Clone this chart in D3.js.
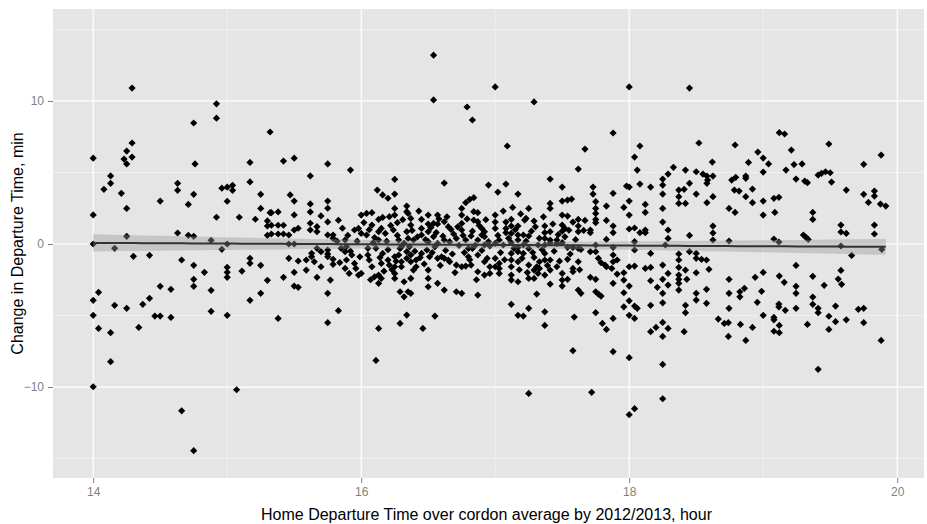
<!DOCTYPE html>
<html>
<head>
<meta charset="utf-8">
<script src="https://cdn.jsdelivr.net/npm/d3@7"></script>
<style>
  body { margin: 0; background: #ffffff; }
  svg { display: block; }
  text { font-family: "Liberation Sans", Arial, sans-serif; }
</style>
</head>
<body>
<svg id="chart" width="927" height="524"></svg>
<script>
// Observations: [home departure hour, change in departure time (min)], grouped by hour band
const hour14 = [
  [14.29,10.9],[14.92,9.8],[14.92,8.8],[14.75,8.46],[14.29,7.06],[14.25,6.5],[14.23,5.94],[14.29,6.08],[14.0,6.0],[14.25,5.6],[14.76,5.6],
  [14.13,4.76],[14.13,4.24],[14.08,3.82],[14.21,3.54],[14.25,2.49],[14.0,2.03],[14.5,3.0],[14.63,4.24],[14.63,3.75],[14.75,3.47],[14.71,2.77],
  [14.96,3.9],[14.92,1.87],[14.25,0.54],[14.63,0.77],[14.71,0.61],[14.75,0.54],[14.88,0.26],[14.0,0],[14.16,-0.3],[14.96,-0.37],[14.3,-0.86],
  [14.42,-0.79],[14.66,-1.12],[14.75,-1.49],[14.83,-1.98],[14.75,-2.47],[14.75,-2.96],[14.88,-3.24],[14.5,-2.96],[14.58,-3.17],[14.04,-3.38],
  [14.0,-3.94],[14.16,-4.29],[14.25,-4.5],[14.37,-4.22],[14.42,-3.8],[14.0,-4.99],[14.46,-5.04],[14.5,-5.04],[14.58,-5.13],[14.88,-4.71],
  [14.04,-5.9],[14.13,-6.2],[14.34,-5.83],[14.13,-8.23],[14.0,-9.98],[14.66,-11.66],[14.75,-14.45]
];
const hour15 = [
  [15.17,5.7],[15.32,7.83],[15.42,5.8],[15.5,6.0],[15.75,5.6],[15.07,-10.19],[15.75,-5.5],
  [15.0,3.97],[15.04,4.1],[15.04,3.75],[15.0,2.99],[15.09,1.87],[15.17,4.34],[15.25,3.47],[15.25,2.49],[15.21,1.73],[15.30,1.61],[15.30,1.26],
  [15.30,0.61],[15.32,2.19],[15.0,0],[15.0,-1.63],[15.0,-1.98],[15.0,-2.33],[15.11,-1.89],[15.17,-1.0],[15.17,-1.35],[15.25,-1.49],[15.3,-2.54],
  [15.0,-4.99],[15.17,-3.94],[15.25,-3.45],
  [15.92,5.17],[15.62,4.76],[15.47,3.43],[15.5,3.0],[15.62,2.8],[15.75,3.0],[15.75,2.5],[15.33,2.19],[15.38,2.24],[15.5,2.03],[15.62,2.24],
  [15.7,1.96],[15.75,1.54],[15.83,1.66],[15.33,1.31],[15.38,1.31],[15.42,1.31],[15.33,0.7],[15.38,0.7],[15.42,0.7],[15.46,0.63],[15.5,0.98],
  [15.53,1.1],[15.62,1.45],[15.62,0.98],[15.67,1.21],[15.67,0.86],[15.75,0.63],[15.79,0.63],[15.79,0.4],[15.46,0],[15.5,0],[15.67,-0.3],
  [15.63,-0.65],[15.7,-0.54],[15.75,-0.7],[15.75,-0.42],[15.63,-0.89],[15.65,-1.24],[15.75,-0.89],[15.79,-1.07],[15.79,-1.42],[15.46,-1.0],
  [15.53,-1.19],[15.59,-1.12],[15.59,-1.82],[15.5,-1.98],[15.7,-1.59],[15.67,-2.33],[15.77,-2.52],[15.42,-2.33],[15.5,-2.94],[15.53,-3.03],
  [15.75,-3.45],[15.83,-4.66],[15.38,-5.2],
  [15.88,0.28],[15.89,-0.19],[15.88,-0.54],[15.89,-1.12],[15.88,-1.71],[15.91,-2.06],[15.93,-0.77],[15.95,-1.36],[15.98,-2.17],[15.96,-1.71],
  [15.95,0.98],[15.98,1.09],
  [15.82,0.2],[15.85,-0.3],[15.86,1.1],[15.9,0.6],[15.92,-0.5],[15.97,0.2],[15.99,-0.9],[15.84,-1.3]
];
const hour16 = [
  [16.54,13.2],[16.54,10.07],[16.79,9.58],[16.83,8.67],
  [16.25,4.52],[16.62,4.26],[16.95,4.12],[16.12,3.77],[16.16,3.43],[16.2,3.2],[16.25,3.49],
  [16.0,2.02],[16.04,2.14],[16.08,2.19],[16.08,1.32],[16.13,1.72],[16.16,1.86],[16.21,1.91],[16.25,2.02],[16.25,2.49],[16.27,1.49],[16.34,2.65],
  [16.34,2.26],[16.35,2.14],[16.37,1.79],[16.37,1.32],[16.45,1.72],[16.5,2.02],[16.5,1.4],[16.54,1.44],[16.57,1.4],[16.57,2.02],[16.62,1.56],
  [16.65,1.21],[16.67,1.02],[16.75,2.49],[16.75,2.02],[16.75,1.44],[16.75,0.98],[16.78,2.89],[16.81,3.12],[16.84,3.24],[16.84,2.26],[16.87,2.19],
  [16.84,1.67],[16.87,1.56],[16.9,1.09],[16.92,0.86],[16.9,0.63],
  [16.0,0.74],[16.04,0.63],[16.13,0.86],[16.13,0.28],[16.15,1.09],[16.18,0.74],[16.24,0.98],[16.28,0.28],[16.3,-0.19],[16.34,0.86],[16.35,0.39],
  [16.39,0.28],[16.45,1.09],[16.45,0.63],[16.5,0.86],[16.5,0.16],[16.54,0.51],[16.57,0.04],[16.62,0.28],[16.66,0.16],[16.71,0.39],[16.78,0.28],
  [16.82,0.56],[16.87,0.28],[16.92,0.51],[16.95,0.16],
  [16.0,-2.06],[16.05,-0.77],[16.06,-1.12],[16.08,-1.59],[16.1,-2.29],[16.13,-2.17],[16.15,-2.41],[16.13,-2.75],[16.16,-0.66],[16.15,-1.36],
  [16.2,-1.12],[16.21,-1.47],[16.25,-0.89],[16.25,-1.59],[16.25,-2.06],[16.25,-2.41],[16.29,-0.31],[16.28,-0.77],[16.3,-1.24],[16.3,-1.59],
  [16.34,-0.54],[16.34,-1.0],[16.37,-0.77],[16.37,-1.24],[16.41,-1.12],[16.41,-1.59],[16.39,-1.82],[16.32,-2.64],[16.35,-3.34],[16.37,-3.45],
  [16.29,-3.34],[16.32,-3.69],[16.37,-2.41],[16.45,-0.66],[16.49,-0.42],[16.51,-0.89],[16.5,-1.82],[16.5,-2.41],[16.5,-2.99],[16.57,-1.0],
  [16.6,-0.89],[16.62,-1.0],[16.65,-1.12],[16.66,-1.24],[16.71,-1.47],[16.75,-1.59],[16.78,-1.54],[16.82,-1.47],[16.62,-3.22],[16.57,-2.75],
  [16.71,-3.34],[16.75,-3.45],[16.8,-0.31],[16.83,-0.31],[16.87,-0.77],[16.8,-0.89],[16.87,-1.94],[16.92,-2.17],[16.87,-3.57],
  [16.92,-0.07],[16.96,-0.14],[16.92,-1.24],[16.96,-1.59],[16.96,-2.06],
  [16.55,-5.04],[16.34,-4.97],[16.29,-5.55],[16.13,-5.9],[16.46,-5.9],[16.11,-8.14],
  [16.02,1.5],[16.06,1.0],[16.1,0.45],[16.11,-0.3],[16.14,-0.95],[16.19,0.2],[16.2,-0.4],[16.22,1.3],[16.23,-1.8],[16.27,0.6],
  [16.31,1.7],[16.32,0.05],[16.36,-0.2],[16.38,0.95],[16.4,-0.5],[16.42,0.5],[16.43,2.3],[16.44,-0.95],[16.47,-1.4],[16.48,0.3],
  [16.52,1.15],[16.53,-0.6],[16.55,-0.2],[16.56,0.8],[16.58,1.75],[16.59,-1.5],[16.61,0.55],[16.63,-0.45],[16.64,1.9],[16.68,-0.7],
  [16.69,0.7],[16.7,-2.0],[16.72,1.2],[16.73,-0.1],[16.76,0.6],[16.77,-0.6],[16.79,1.75],[16.81,-1.1],[16.83,0.9],[16.85,-0.1],
  [16.86,-2.5],[16.88,1.3],[16.9,-0.45],[16.93,1.7],[16.94,-1.0],[16.05,-0.3],[16.09,0.1],[16.17,-1.9],[16.07,-2.5],[16.26,-1.2]
];
const hour17 = [
  [17.0,10.98],[17.29,9.93],[17.09,6.85],[17.67,6.64],[17.88,7.76],
  [17.62,5.24],[17.08,4.19],[17.02,3.63],[17.17,3.49],[17.41,4.54],[17.5,3.98],[17.73,3.98],[17.88,3.54],[17.98,4.05],
  [17.41,2.84],[17.41,2.49],[17.5,3.0],[17.54,3.07],[17.57,3.14],[17.73,3.49],[17.75,2.96],[17.75,2.49],[17.75,2.14],[17.75,1.72],[17.75,1.49],
  [17.13,2.56],[17.25,2.49],[17.0,2.02],[17.0,1.53],[17.0,1.09],[17.08,1.53],[17.12,1.72],[17.12,1.26],[17.08,1.09],[17.08,0.79],[17.12,0.74],
  [17.17,1.26],[17.17,0.63],[17.21,0.63],[17.25,0.56],[17.22,1.67],[17.23,1.79],[17.29,1.6],[17.37,1.26],[17.37,0.79],[17.37,0.39],[17.41,0.86],
  [17.41,0.28],[17.46,0.28],[17.5,2.02],[17.54,1.95],[17.5,1.32],[17.52,1.09],[17.55,0.96],[17.5,0.9],[17.58,1.53],[17.62,1.72],[17.67,1.65],
  [17.62,1.26],[17.62,0.86],[17.71,0.98],[17.71,0.79],[17.83,2.65],[17.83,1.65],[17.88,1.26],[17.88,0.79],[17.83,0.32],[17.96,2.56],
  [17.0,0.04],[17.03,0.28],[17.06,-0.07],[17.12,0.09],[17.17,0.28],[17.17,-0.24],[17.21,-0.07],[17.25,-0.31],[17.32,-0.07],[17.37,-0.07],
  [17.41,0.09],[17.46,0.04],[17.5,0.09],[17.54,-0.24],[17.58,-0.24],[17.62,-0.31],[17.64,-0.38],[17.75,-0.07],[17.88,-0.24],
  [17.0,-1.0],[17.0,-1.59],[17.03,-1.36],[17.03,-1.71],[17.03,-2.06],[17.12,-0.66],[17.12,-1.12],[17.12,-1.59],[17.12,-2.17],[17.12,-2.52],
  [17.17,-1.24],[17.17,-2.64],[17.21,-0.66],[17.17,-0.54],[17.25,-1.47],[17.25,-2.41],[17.29,-2.41],[17.29,-1.82],[17.31,-1.59],[17.33,-1.71],
  [17.32,-2.06],[17.37,-2.17],[17.37,-0.66],[17.37,-1.12],[17.41,-1.12],[17.41,-1.82],[17.29,-0.94],[17.33,-1.24],[17.46,-1.59],[17.5,-2.06],
  [17.54,-1.07],[17.5,-2.52],[17.54,-2.47],[17.58,-1.94],[17.58,-1.71],[17.62,-1.24],[17.71,-0.54],[17.75,-0.54],[17.77,-1.0],[17.79,-1.31],
  [17.82,-1.47],[17.83,-1.59],[17.87,-1.71],[17.88,-1.24],[17.88,-0.77],[17.91,-1.12],[17.88,-2.75],[17.41,-2.8],[17.5,-2.94],[17.71,-2.33],
  [17.75,-2.47],[17.62,-3.22],[17.64,-3.45],[17.75,-3.34],[17.77,-3.5],[17.79,-3.64],[17.31,-3.5],[17.96,-2.01],[17.91,-2.1],[17.96,-2.52],
  [17.96,-3.41],[17.96,-4.39],
  [17.12,-4.22],[17.17,-4.99],[17.21,-5.04],[17.25,-4.5],[17.37,-4.74],[17.59,-5.11],[17.75,-4.8],[17.88,-5.2],
  [17.37,-5.69],[17.80,-5.55],[17.83,-5.97],[17.58,-7.46],[17.88,-7.53],[17.25,-10.45],[17.72,-10.37],
  [17.02,0.6],[17.04,-0.6],[17.06,2.3],[17.07,-1.1],[17.1,0.4],[17.14,-0.3],[17.15,1.0],[17.18,-1.8],[17.19,2.1],[17.2,-1.0],
  [17.23,0.2],[17.24,-2.0],[17.27,0.9],[17.28,-0.6],[17.3,1.2],[17.33,0.4],[17.35,-0.4],[17.36,1.9],[17.39,-1.5],[17.43,1.4],
  [17.44,-0.5],[17.47,0.65],[17.48,-1.2],[17.52,0.5],[17.56,-0.7],[17.6,0.3],[17.63,-1.8],[17.66,0.95]
];
const hour18 = [
  [18.0,10.98],[18.45,10.9],[18.08,6.85],[18.04,6.08],[18.52,7.06],[18.62,5.73],[18.79,6.92],[18.89,5.7],[18.96,6.43],
  [18.06,5.17],[18.33,5.36],[18.42,5.17],[18.5,5.05],[18.55,4.89],[18.29,4.89],[18.25,4.54],[18.25,4.12],[18.0,3.98],[18.08,4.19],[18.16,3.98],
  [18.25,3.49],[18.37,3.77],[18.41,3.82],[18.45,4.24],[18.5,3.49],[18.37,3.31],[18.37,2.84],[18.42,2.84],[18.0,3.0],[18.0,2.02],[18.0,1.05],
  [18.04,1.12],[18.08,0.79],[18.12,0.98],[18.12,0.79],[18.12,2.77],[18.12,2.21],[18.25,2.49],[18.25,1.53],[18.29,0.98],[18.29,0.39],[18.45,0.6],
  [18.04,0.16],[18.04,-0.42],[18.27,-0.07],
  [18.0,-1.59],[18.04,-1.54],[18.16,-0.66],[18.12,-1.71],[18.16,-1.64],[18.16,-2.57],[18.21,-3.03],[18.25,-1.47],[18.25,-2.47],[18.29,-2.06],
  [18.29,-2.87],[18.25,-3.45],[18.37,-0.7],[18.37,-1.12],[18.37,-1.64],[18.37,-2.17],[18.37,-2.47],[18.37,-2.75],[18.37,-3.22],[18.42,-1.82],
  [18.43,-2.47],[18.45,-0.54],[18.5,-0.66],[18.5,-1.0],[18.54,-1.07],[18.5,-2.01],[18.0,-2.94],[18.0,-3.97],[18.04,-4.34],[18.06,-4.5],
  [18.16,-4.29],[18.25,-4.11],[18.42,-4.29],[18.42,-4.8],[18.5,-3.45],[18.5,-3.92],[18.0,-4.99],[18.04,-5.2],
  [18.16,-6.13],[18.20,-5.83],[18.25,-5.48],[18.25,-6.46],[18.29,-5.9],[18.41,-6.13],[18.0,-7.95],[18.25,-8.42],[18.25,-10.82],[18.04,-11.51],
  [18.0,-11.93],
  [18.58,4.75],[18.625,4.75],[18.58,4.24],[18.585,4.47],[18.765,4.47],[18.795,4.66],[18.87,4.75],[18.87,4.59],[18.785,3.77],[18.82,3.7],
  [18.92,3.84],[18.87,3.31],[18.92,2.89],[18.58,2.89],[18.625,3.31],[18.745,2.49],[18.79,2.21],[18.625,1.25],[18.625,0.77],[18.625,0.28],
  [18.745,0.21],[18.577,-1.12],[18.595,-1.77],[18.745,-2.47],[18.94,-2.33],[18.577,-3.17],[18.577,-4.15],[18.745,-3.45],[18.745,-4.5],
  [18.826,-3.34],[18.86,-3.1],[18.826,-3.69],[18.988,-3.31],[18.956,-4.08],
  [18.665,-5.25],[18.71,-5.55],[18.74,-5.5],[18.83,-5.62],[18.92,-5.83],[18.74,-6.46],[18.87,-6.74]
];
const hour19 = [
  [19.0,6.01],[19.04,5.6],[19.12,7.78],[19.16,7.69],[19.21,6.57],[19.23,5.55],[19.29,5.6],[19.49,6.99],[19.75,5.57],[19.88,6.22],
  [19.17,5.17],[19.0,5.03],[19.245,4.54],[19.31,4.4],[19.33,4.29],[19.41,4.82],[19.435,4.94],[19.465,5.05],[19.5,4.98],[19.51,4.33],
  [19.75,3.47],[19.83,3.7],[19.83,3.35],[19.785,2.91],[19.875,2.79],[19.915,2.65],[19.62,3.77],[19.0,3.0],[19.0,2.02],[19.08,3.19],
  [19.117,3.26],[19.087,2.21],[19.37,2.21],[19.37,1.72],[19.58,1.32],[19.58,0.84],[19.62,0.74],[19.83,1.32],[19.83,0.7],[19.08,0.35],
  [19.117,0.14],[19.3,0.63],[19.32,0.46],[19.336,0.32],[19.58,-0.14],[19.885,-0.38],[19.66,-0.8],[19.245,-1.5],[19.58,-1.85],[19.0,-1.99],
  [19.12,-2.24],[19.157,-2.68],[19.37,-2.26],[19.56,-2.45],[19.585,-2.82],[19.245,-2.96],[19.245,-3.45],[19.455,-2.89],[19.0,-4.99],
  [19.117,-4.2],[19.117,-4.4],[19.165,-4.64],[19.245,-4.5],[19.37,-3.71],[19.37,-4.22],[19.41,-4.5],[19.41,-4.8],[19.54,-4.34],[19.08,-5.13],
  [19.49,-5.05],[19.71,-4.57],[19.75,-4.5],
  [19.08,-5.3],[19.12,-5.69],[19.08,-6.1],[19.12,-6.2],[19.33,-5.62],[19.49,-5.97],[19.54,-5.43],[19.62,-5.3],[19.75,-5.5],[19.41,-8.76],
  [19.88,-6.74]
];

const xMajor = [14, 16, 18, 20];
const xMinor = [15, 17, 19];
const yMajor = [-10, 0, 10];
const yMinor = [-15, -5, 5, 15];
const xTitle = "Home Departure Time over cordon average by 2012/2013, hour";
const yTitle = "Change in Departure Time, min";

const points = [].concat(hour14, hour15, hour16, hour17, hour18, hour19)
  .map(([hour, change]) => ({ hour, change }));

const svg = d3.select("#chart");
const panel = { left: 53, top: 9, right: 924, bottom: 478 };

const x = d3.scaleLinear().domain([13.70, 20.20]).range([panel.left, panel.right]);
const y = d3.scaleLinear().domain([-16.36, 16.43]).range([panel.bottom, panel.top]);

// panel background
svg.append("rect")
  .attr("x", panel.left).attr("y", panel.top)
  .attr("width", panel.right - panel.left).attr("height", panel.bottom - panel.top)
  .attr("fill", "#e5e5e5");

const grid = svg.append("g");
// minor grid
grid.selectAll(".xminor").data(xMinor).join("line")
  .attr("x1", d => x(d)).attr("x2", d => x(d))
  .attr("y1", panel.top).attr("y2", panel.bottom)
  .attr("stroke", "#f2f2f2").attr("stroke-width", 0.8);
grid.selectAll(".yminor").data(yMinor).join("line")
  .attr("y1", d => y(d)).attr("y2", d => y(d))
  .attr("x1", panel.left).attr("x2", panel.right)
  .attr("stroke", "#f2f2f2").attr("stroke-width", 0.8);
// major grid
grid.selectAll(".xmajor").data(xMajor).join("line")
  .attr("x1", d => x(d)).attr("x2", d => x(d))
  .attr("y1", panel.top).attr("y2", panel.bottom)
  .attr("stroke", "#ffffff").attr("stroke-width", 1.2);
grid.selectAll(".ymajor").data(yMajor).join("line")
  .attr("y1", d => y(d)).attr("y2", d => y(d))
  .attr("x1", panel.left).attr("x2", panel.right)
  .attr("stroke", "#ffffff").attr("stroke-width", 1.2);

// points: filled diamonds
const r = 3.6;
svg.append("g").selectAll("path").data(points).join("path")
  .attr("transform", d => `translate(${x(d.hour)},${y(d.change)})`)
  .attr("d", `M0,${-r}L${r},0L0,${r}L${-r},0Z`)
  .attr("fill", "#000");

// linear fit with 95% confidence band
const n = points.length;
const mx = d3.mean(points, d => d.hour);
const my = d3.mean(points, d => d.change);
const sxx = d3.sum(points, d => (d.hour - mx) ** 2);
const sxy = d3.sum(points, d => (d.hour - mx) * (d.change - my));
const slope = sxy / sxx;
const icpt = my - slope * mx;
const sse = d3.sum(points, d => (d.change - (icpt + slope * d.hour)) ** 2);
const s = Math.sqrt(sse / (n - 2));
const tq = 1.963;
const [xmin, xmax] = d3.extent(points, d => d.hour);
const fit = d3.range(0, 81).map(i => {
  const h = xmin + (xmax - xmin) * i / 80;
  const f = icpt + slope * h;
  const se = s * Math.sqrt(1 / n + (h - mx) ** 2 / sxx);
  return { h, f, lo: f - tq * se, hi: f + tq * se };
});
svg.append("path").datum(fit)
  .attr("d", d3.area().x(d => x(d.h)).y0(d => y(d.lo)).y1(d => y(d.hi)))
  .attr("fill", "#999999").attr("fill-opacity", 0.4);
svg.append("path").datum(fit)
  .attr("d", d3.line().x(d => x(d.h)).y(d => y(d.f)))
  .attr("fill", "none").attr("stroke", "#333333").attr("stroke-width", 2);

// axes
const xAxis = svg.append("g")
  .attr("transform", `translate(0,${panel.bottom})`)
  .call(d3.axisBottom(x).tickValues(xMajor).tickSize(5).tickPadding(4).tickFormat(d3.format("d")));
const yAxis = svg.append("g")
  .attr("transform", `translate(${panel.left},0)`)
  .call(d3.axisLeft(y).tickValues(yMajor).tickSize(5).tickPadding(4).tickFormat(d3.format("d")));
[xAxis, yAxis].forEach(g => {
  g.select(".domain").remove();
  g.selectAll("line").attr("stroke", "#7f7f7f");
  g.selectAll("text").attr("fill", "#7f7f7f").style("font-size", "12px")
    .style("font-family", "'Liberation Sans', Arial, sans-serif");
});

// axis titles
svg.append("text")
  .attr("x", (panel.left + panel.right) / 2 - 2).attr("y", 520)
  .attr("text-anchor", "middle").attr("fill", "#000")
  .style("font-size", "16px").text(xTitle);
svg.append("text")
  .attr("transform", `translate(23,${(panel.top + panel.bottom) / 2}) rotate(-90)`)
  .attr("text-anchor", "middle").attr("fill", "#000")
  .style("font-size", "16px").text(yTitle);
</script>
</body>
</html>
